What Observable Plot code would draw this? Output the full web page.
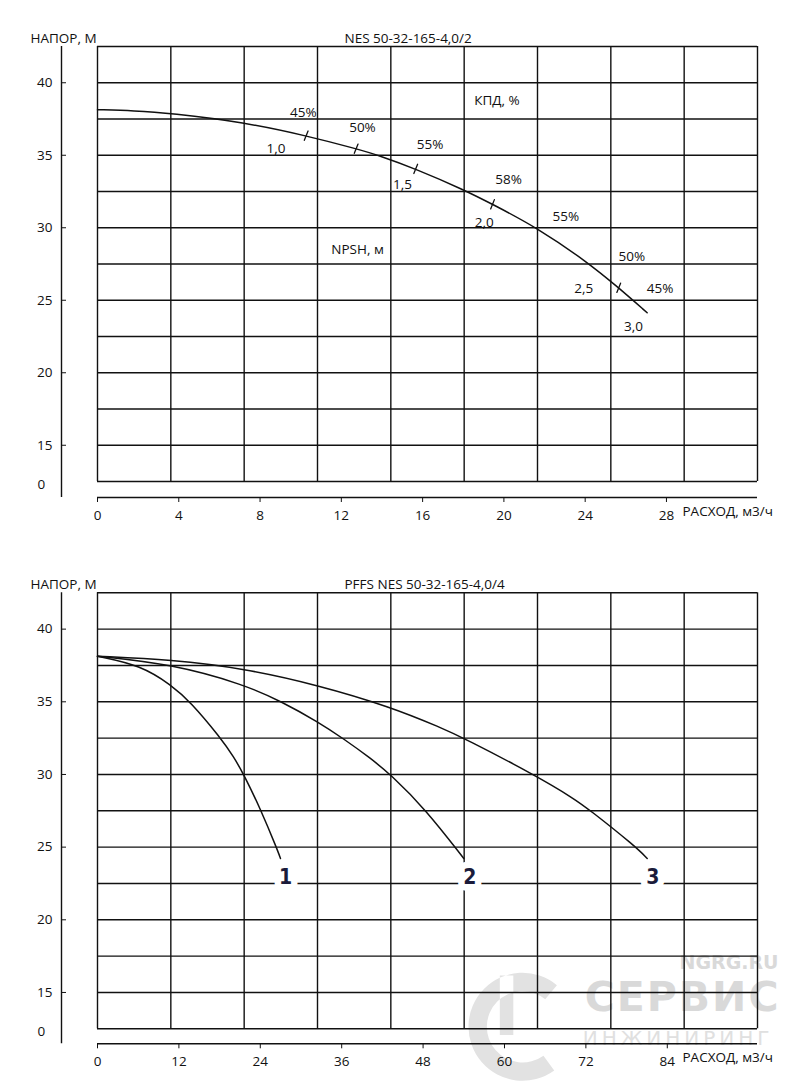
<!DOCTYPE html>
<html>
<head>
<meta charset="utf-8">
<script src="https://cdn.jsdelivr.net/npm/d3@7"></script>
<script src="https://cdn.jsdelivr.net/npm/@observablehq/plot@0.6"></script>
<style>
  html, body { margin: 0; padding: 0; background: #fff; }
  #app { width: 800px; }
  #app svg { display: block; }
</style>
</head>
<body>
<div id="app"></div>
<script>
// ---------- data ----------
const yTicks = [40, 35, 30, 25, 20, 15];
const yBreakLabel = ["0"];
const gridYVals = [12.5, 15, 17.5, 20, 22.5, 25, 27.5, 30, 32.5, 35, 37.5, 40, 42.5];

// chart 1: NES 50-32-165-4,0/2
const topTitle = "NES 50-32-165-4,0/2";
const topXTicks = [0, 4, 8, 12, 16, 20, 24, 28];
const topQ = [0, 1.8, 3.6, 7.23, 10.27, 12.73, 13.83, 15.66, 18.03, 19.44, 21.64, 24.1, 25.65, 27.05];
const topH = [38.14, 38.08, 37.9, 37.27, 36.35, 35.45, 35.0, 34.06, 32.62, 31.62, 30.0, 27.64, 25.86, 24.14];
// division marks on the curve
const markQ = [10.27, 12.73, 15.66, 19.44, 25.65];
const markH = [36.35, 35.45, 34.06, 31.62, 25.86];
// efficiency labels
const effLabels = ["45%", "50%", "55%", "58%", "55%", "50%", "45%"];
const effQ = [10.13, 13.04, 16.37, 20.23, 23.05, 26.3, 27.69];
const effH = [37.95, 36.92, 35.71, 33.32, 30.77, 28.02, 25.79];
// NPSH labels
const npshLabels = ["1,0", "1,5", "2,0", "2,5", "3,0"];
const npshQ = [8.78, 15.01, 19.03, 23.93, 26.38];
const npshH = [35.43, 32.98, 30.34, 25.79, 23.15];
// caption labels
const captionLabels = ["КПД, %", "NPSH, м"];
const captionQ = [19.66, 12.8];
const captionH = [38.76, 28.5];

// chart 2: PFFS NES 50-32-165-4,0/4
const bottomTitle = "PFFS NES 50-32-165-4,0/4";
const bottomXTicks = [0, 12, 24, 36, 48, 60, 72, 84];
const curve1Q = [0, 6.34, 10.9, 13.7, 18.1, 20.1, 21.57, 24.03, 26.49, 26.98];
const curve1H = [38.14, 37.52, 36.15, 35.0, 32.55, 31.2, 30.0, 27.62, 24.85, 24.22];
const curve2Q = [0, 10.9, 21.57, 27.2, 32.5, 36.3, 40.25, 43.2, 48.36, 54.0];
const curve2H = [38.14, 37.6, 36.2, 35.0, 33.62, 32.45, 31.12, 30.0, 27.6, 24.22];
const curve3Q = [0, 10.9, 21.57, 32.5, 43.2, 50.6, 54.1, 64.8, 70.2, 72.4, 79.3, 81.04];
const curve3H = [38.14, 37.9, 37.3, 36.15, 34.65, 33.23, 32.48, 29.88, 28.35, 27.62, 25.05, 24.22];
const pumpLabels = ["1", "2", "3"];
const pumpQ = [27.72, 54.89, 81.87];
const pumpH = [22.91, 22.91, 22.91];

const yLabel = "НАПОР, М";
const xLabel = "РАСХОД, м3/ч";
const watermark = ["NGRG.RU", "СЕРВИС", "ИНЖИНИРИНГ"];

// ---------- helpers ----------
const ink = "#111";
const font = "Open Sans";
const fs = 13.5;
const rows = (xs, ys) => xs.map((q, i) => ({q, h: ys[i]}));

function baseChart({height, marginTop, marginBottom, xMax, xTicks, title, axisGap, xLabelDy, marks}) {
  const gridXVals = d3.range(10).map(i => i * xMax / 9);
  return Plot.plot({
    width: 800,
    height,
    marginTop,
    marginBottom,
    marginLeft: 97,
    marginRight: 43,
    x: {domain: [0, xMax]},
    y: {domain: [12.5, 42.5]},
    style: {fontFamily: font, fontSize: fs + "px", color: ink, background: "white"},
    marks: [
      ...(marks.before || []),
      Plot.gridX(gridXVals, {stroke: ink, strokeOpacity: 1, strokeWidth: 1.4}),
      Plot.gridY(gridYVals, {stroke: ink, strokeOpacity: 1, strokeWidth: 1.4}),
      // y axis (detached, left of the grid)
      Plot.ruleX([0], {dx: -36, insetBottom: -axisGap, stroke: ink, strokeWidth: 1.4}),
      Plot.axisY({ticks: yTicks, anchor: "left", dx: -31, tickSize: 5, tickPadding: 9, label: null, fontSize: fs, color: ink}),
      Plot.text(yBreakLabel, {text: d => d, frameAnchor: "bottom-left", dx: -60, dy: 7.3, textAnchor: "start", fontSize: fs, fill: ink}),
      // x axis (detached, below the grid)
      Plot.ruleY([12.5], {dy: axisGap, stroke: ink, strokeWidth: 1.4}),
      Plot.axisX({ticks: xTicks, anchor: "bottom", dy: axisGap, tickSize: 5, tickPadding: 8, label: null, fontSize: fs, color: ink}),
      Plot.text([xLabel], {text: d => d, frameAnchor: "bottom-right", dx: -75, dy: xLabelDy, textAnchor: "start", fontSize: fs, fill: ink}),
      // titles
      Plot.text([yLabel], {text: d => d, frameAnchor: "top-left", dx: -67, dy: -13, textAnchor: "start", fontSize: fs, fill: ink}),
      Plot.text([title], {text: d => d, frameAnchor: "top-left", dx: 247, dy: -13, textAnchor: "start", fontSize: fs, fill: ink}),
      ...(marks.after || [])
    ]
  });
}

const slash = {draw(ctx, l) { ctx.moveTo(0, 0); ctx.lineTo(0, -l); }};

const chart1 = baseChart({
  height: 545, marginTop: 46, marginBottom: 64, xMax: 32.48, xTicks: topXTicks,
  title: topTitle, axisGap: 16, xLabelDy: 34,
  marks: {
    after: [
      Plot.line(rows(topQ, topH), {x: "q", y: "h", curve: "basis", stroke: ink, strokeWidth: 1.5}),
      Plot.vector(rows(markQ, markH), {x: "q", y: "h", length: 10, rotate: 22, anchor: "middle", shape: slash, stroke: ink, strokeWidth: 1.3}),
      Plot.text(effLabels, {text: d => d, x: effQ, y: effH, fontSize: fs, fill: ink}),
      Plot.text(npshLabels, {text: d => d, x: npshQ, y: npshH, fontSize: fs, fill: ink}),
      Plot.text(captionLabels, {text: d => d, x: captionQ, y: captionH, fontSize: fs, fill: ink})
    ]
  }
});

// watermark logo: a "C"-shaped ring with a bar inside
const logo = {
  draw(ctx, size) {
    const R = Math.sqrt(size / Math.PI), r = R * 0.66;
    const a0 = -0.28 * Math.PI, a1 = 0.3 * Math.PI;
    ctx.moveTo(R * Math.cos(a0), R * Math.sin(a0));
    ctx.arc(0, 0, R, a0, a1, true);
    ctx.lineTo(r * Math.cos(a1), r * Math.sin(a1));
    ctx.arc(0, 0, r, a1, a0, false);
    ctx.closePath();
    ctx.moveTo(-R * 0.42, -R * 0.95);
    ctx.lineTo(-R * 0.17, -R * 0.95);
    ctx.lineTo(-R * 0.17, R * 0.15);
    ctx.lineTo(-R * 0.42, R * 0.15);
    ctx.closePath();
  }
};

const wmColor = "#d9d9d9";
const chart2 = baseChart({
  height: 540, marginTop: 47.3, marginBottom: 56.7, xMax: 97.3, xTicks: bottomXTicks,
  title: bottomTitle, axisGap: 15, xLabelDy: 33.4,
  marks: {
    before: [
      Plot.dot([0], {frameAnchor: "bottom-right", dx: -235, dy: -2, r: 54, symbol: logo, fill: "#e2e2e2", stroke: "none"}),
      Plot.text([watermark[0]], {text: d => d, frameAnchor: "bottom-right", dx: 21, dy: -60, textAnchor: "end", fontFamily: "DejaVu Sans", fontWeight: "bold", fontSize: 19, fill: wmColor}),
      Plot.text([watermark[1]], {text: d => d, frameAnchor: "bottom-right", dx: 23, dy: -18, textAnchor: "end", fontFamily: "DejaVu Sans", fontWeight: "bold", fontSize: 41, fill: wmColor}),
      Plot.text([watermark[2]], {text: d => d, frameAnchor: "bottom-right", dx: 16, dy: 16, textAnchor: "end", fontFamily: "DejaVu Sans", fontSize: 20, fill: "#e0e0e0"})
    ],
    after: [
      Plot.line(rows(curve1Q, curve1H), {x: "q", y: "h", curve: "basis", stroke: ink, strokeWidth: 1.5}),
      Plot.line(rows(curve2Q, curve2H), {x: "q", y: "h", curve: "basis", stroke: ink, strokeWidth: 1.5}),
      Plot.line(rows(curve3Q, curve3H), {x: "q", y: "h", curve: "basis", stroke: ink, strokeWidth: 1.5}),
      Plot.text(pumpLabels, {text: d => d, x: pumpQ, y: pumpH, fontFamily: "DejaVu Sans Condensed", fontWeight: "bold", fontSize: 21, fill: "#1b1b3a", stroke: "white", strokeWidth: 13, paintOrder: "stroke", strokeLinejoin: "round"})
    ]
  }
});

// widen the watermark lettering a little
for (const t of chart2.querySelectorAll("text")) {
  if (t.textContent === watermark[1]) t.setAttribute("letter-spacing", "2");
  if (t.textContent === watermark[2]) t.setAttribute("letter-spacing", "4");
}

document.getElementById("app").append(chart1, chart2);
</script>
</body>
</html>
